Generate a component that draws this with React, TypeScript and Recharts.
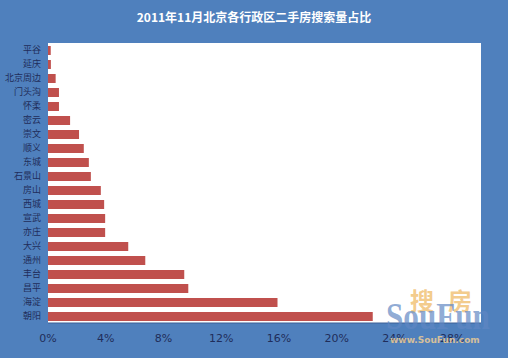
import { Bar, BarChart, CartesianGrid, XAxis, YAxis } from "recharts";

const districts = [
    "平谷", "延庆", "北京周边", "门头沟", "怀柔", "密云", "崇文", "顺义", "东城", "石景山",
    "房山", "西城", "宣武", "亦庄", "大兴", "通州", "丰台", "昌平", "海淀", "朝阳",
];
const shares = [
    0.0019, 0.002, 0.0053, 0.0076, 0.0076, 0.0153, 0.0215, 0.0248, 0.0283, 0.0297,
    0.0366, 0.0389, 0.0396, 0.0396, 0.0556, 0.0674, 0.0944, 0.0972, 0.159, 0.225,
];
const xTicks = [0, 0.04, 0.08, 0.12, 0.16, 0.2, 0.24, 0.28];

const data = districts.map((name, i) => ({ name, share: shares[i] }));

const App = () => {
    return (
        <div style={{ position: "fixed", left: 0, top: 0, width: 508, height: 358, background: "#4f80bd", overflow: "hidden" }}>
            <div
                style={{
                    position: "absolute", top: 8, width: 508, textAlign: "center", color: "#fff",
                    fontFamily: "'Noto Sans CJK SC'", fontWeight: "bold", fontSize: 12,
                }}
            >
                2011年11月北京各行政区二手房搜索量占比
            </div>
            <BarChart
                width={508}
                height={358}
                data={data}
                layout="vertical"
                margin={{ top: 43, right: 27, bottom: 15, left: 0 }}
                barSize={9}
            >
                <CartesianGrid fill="#fff" horizontal={false} vertical={false} />
                <XAxis
                    type="number"
                    domain={[0, 0.3]}
                    ticks={xTicks}
                    tickFormatter={(v: number) => `${Math.round(v * 100)}%`}
                    height={20}
                    tickLine={false}
                    tickMargin={5}
                    axisLine={{ stroke: "#3d5f95" }}
                    tick={{ fill: "#1f2d5a", fontSize: 11, fontFamily: "'DejaVu Sans'" }}
                />
                <YAxis
                    type="category"
                    dataKey="name"
                    width={48}
                    interval={0}
                    tickLine={false}
                    axisLine={false}
                    tickSize={4}
                    tickMargin={3}
                    tick={{ fill: "#1f2d5a", fontSize: 9, fontFamily: "'Noto Sans CJK SC'" }}
                />
                <Bar dataKey="share" fill="#c0504d" isAnimationActive={false} />
            </BarChart>
            {/* SouFun watermark */}
            <div style={{ position: "absolute", left: 410, top: 286, fontFamily: "'Noto Sans CJK SC'", fontSize: 24, fontWeight: "bold", color: "rgba(240,190,110,0.8)", letterSpacing: 14, lineHeight: "28px" }}>
                搜房
            </div>
            <div style={{ position: "absolute", left: 386, top: 296, fontFamily: "'Liberation Serif'", fontSize: 38, fontWeight: "bold", color: "rgba(95,135,195,0.7)", lineHeight: "40px", transform: "scaleX(0.82)", transformOrigin: "left top" }}>
                SouFun
            </div>
            <div style={{ position: "absolute", left: 390, top: 335, fontFamily: "'DejaVu Sans'", fontSize: 9, fontWeight: "bold", color: "rgba(230,200,150,0.9)" }}>
                www.SouFun.com
            </div>
        </div>
    );
};

export default App;
